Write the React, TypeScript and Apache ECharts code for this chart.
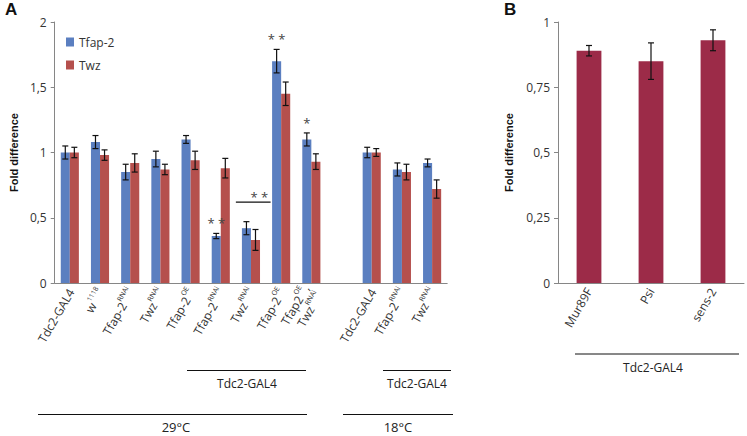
import React, { useEffect, useRef } from "react";
import * as echarts from "echarts";

// Panel A
const catsA = [
  "{n|Tdc2-GAL4}",
  "{n|w}{s|1118}",
  "{n|Tfap-2}{s|RNAi}",
  "{n|Twz}{s|RNAi}",
  "{n|Tfap-2}{s|OE}",
  "{n|Tfap-2}{s|RNAi}",
  "{n|Twz}{s|RNAi}",
  "{n|Tfap-2}{s|OE}",
  "{n|Tfap2}{s|OE}{n|,}\n{n|Twz}{s|RNAi}",
  "",
  "{n|Tdc2-GAL4}",
  "{n|Tfap-2}{s|RNAi}",
  "{n|Twz}{s|RNAi}",
];
const tfapVals = [1.0, 1.08, 0.85, 0.95, 1.1, 0.36, 0.42, 1.7, 1.1, null, 1.0, 0.87, 0.92];
const tfapErr = [0.05, 0.05, 0.06, 0.06, 0.03, 0.02, 0.05, 0.09, 0.05, null, 0.04, 0.05, 0.03];
const twzVals = [1.0, 0.98, 0.92, 0.87, 0.94, 0.88, 0.33, 1.45, 0.93, null, 1.0, 0.85, 0.72];
const twzErr = [0.04, 0.04, 0.07, 0.04, 0.07, 0.075, 0.08, 0.09, 0.06, null, 0.03, 0.06, 0.07];
const tfapSig = ["", "", "", "", "", "* *", "", "* *", "*", "", "", "", ""];
const bracket = { from: 6, to: 7, value: 0.62, label: "* *" };

// Panel B
const catsB = ["Mur89F", "Psi", "sens-2"];
const valsB = [0.89, 0.85, 0.93];
const errB = [0.02, 0.07, 0.04];

const BLUE = "#5B7FC0";
const RED = "#B5504D";
const MAROON = "#9C2B48";
const AXIS = "#868686";
const FONT = "Open Sans";

const fmt = (v: number) => String(v).replace(".", ",");

function errSeries(
  name: string,
  xAxisIndex: number,
  yAxisIndex: number,
  vals: (number | null)[],
  errs: (number | null)[],
  offFrac: number,
  sig: string[] | null
) {
  const data: any[] = [];
  vals.forEach((v, i) => {
    if (v == null) return;
    data.push([i, v, errs[i]]);
  });
  return {
    type: "custom",
    name,
    xAxisIndex,
    yAxisIndex,
    silent: true,
    z: 5,
    encode: { x: 0, y: 1 },
    data,
    renderItem: (params: any, api: any) => {
      const x = api.value(0);
      const v = api.value(1);
      const e = api.value(2);
      const s = sig ? sig[x] : "";
      const catW = api.size([1, 0])[0];
      const top = api.coord([x, v + e]);
      const bot = api.coord([x, v - e]);
      const cx = top[0] + offFrac * catW;
      const cap = 3;
      const st = { stroke: "#111", lineWidth: 1.2 };
      const children: any[] = [
        { type: "line", shape: { x1: cx, y1: top[1], x2: cx, y2: bot[1] }, style: st },
        { type: "line", shape: { x1: cx - cap, y1: top[1], x2: cx + cap, y2: top[1] }, style: st },
        { type: "line", shape: { x1: cx - cap, y1: bot[1], x2: cx + cap, y2: bot[1] }, style: st },
      ];
      if (s) {
        children.push({
          type: "text",
          x: cx,
          y: top[1] - 10,
          style: {
            text: s,
            fill: "#444",
            font: `13px ${FONT}`,
            textAlign: "center",
            textVerticalAlign: "middle",
          },
        });
      }
      return { type: "group", children };
    },
  };
}

const labelRich = {
  n: { fontSize: 12, color: "#333", fontFamily: FONT, verticalAlign: "bottom", lineHeight: 15 },
  s: { fontSize: 7, color: "#333", fontFamily: FONT, verticalAlign: "top", lineHeight: 15 },
};

export default function App() {
  const ref = useRef<HTMLDivElement>(null);
  useEffect(() => {
    if (!ref.current) return;
    const chart = echarts.init(ref.current, undefined, { renderer: "svg" });
    const option: any = {
      animation: false,
      textStyle: { fontFamily: FONT },
      grid: [
        { left: 48.7, top: 22, width: 398.5, height: 261, containLabel: false },
        { left: 558, top: 22, width: 186, height: 261, containLabel: false },
      ],
      legend: {
        data: ["Tfap-2", "Twz"],
        orient: "vertical",
        left: 61,
        top: 31,
        itemWidth: 8,
        itemHeight: 9,
        itemGap: 11,
        icon: "rect",
        textStyle: { fontSize: 12, color: "#333", fontFamily: FONT },
      },
      xAxis: [
        {
          type: "category",
          gridIndex: 0,
          data: catsA,
          axisLine: { lineStyle: { color: AXIS } },
          axisTick: { lineStyle: { color: AXIS }, length: 4 },
          axisLabel: {
            rotate: 60,
            interval: 0,
            margin: 6,
            rich: labelRich,
            formatter: (v: string) => v,
          },
        },
        {
          type: "category",
          gridIndex: 1,
          data: catsB,
          axisLine: { lineStyle: { color: AXIS } },
          axisTick: { lineStyle: { color: AXIS }, length: 4 },
          axisLabel: { rotate: 60, interval: 0, margin: 6, fontSize: 12, color: "#333", fontFamily: FONT },
        },
      ],
      yAxis: [
        {
          type: "value",
          gridIndex: 0,
          min: 0,
          max: 2,
          interval: 0.5,
          name: "Fold difference",
          nameLocation: "middle",
          nameGap: 35,
          nameTextStyle: { fontSize: 11, fontWeight: "bold", color: "#111", fontFamily: "Liberation Sans" },
          axisLine: { show: true, lineStyle: { color: AXIS } },
          axisTick: { show: true, lineStyle: { color: AXIS }, length: 4 },
          splitLine: { show: false },
          axisLabel: { fontSize: 12, color: "#333", margin: 8, formatter: fmt },
        },
        {
          type: "value",
          gridIndex: 1,
          min: 0,
          max: 1,
          interval: 0.25,
          name: "Fold difference",
          nameLocation: "middle",
          nameGap: 44,
          nameTextStyle: { fontSize: 11, fontWeight: "bold", color: "#111", fontFamily: "Liberation Sans" },
          axisLine: { show: true, lineStyle: { color: AXIS } },
          axisTick: { show: true, lineStyle: { color: AXIS }, length: 4 },
          splitLine: { show: false },
          axisLabel: { fontSize: 12, color: "#333", margin: 8, formatter: fmt },
        },
      ],
      series: [
        {
          type: "bar",
          name: "Tfap-2",
          xAxisIndex: 0,
          yAxisIndex: 0,
          data: tfapVals.map((v) => (v == null ? "-" : v)),
          itemStyle: { color: BLUE },
          barGap: "0%",
          barCategoryGap: "40%",
        },
        {
          type: "bar",
          name: "Twz",
          xAxisIndex: 0,
          yAxisIndex: 0,
          data: twzVals.map((v) => (v == null ? "-" : v)),
          itemStyle: { color: RED },
          barGap: "0%",
          barCategoryGap: "40%",
        },
        errSeries("errTfap", 0, 0, tfapVals, tfapErr, -0.15, tfapSig),
        errSeries("errTwz", 0, 0, twzVals, twzErr, 0.15, null),
        {
          type: "custom",
          name: "bracket",
          xAxisIndex: 0,
          yAxisIndex: 0,
          silent: true,
          encode: { x: 0, y: 1 },
          data: [[bracket.from, bracket.value, bracket.to]],
          renderItem: (params: any, api: any) => {
            const catW = api.size([1, 0])[0];
            const a = api.coord([api.value(0), api.value(1)]);
            const b = api.coord([api.value(2), api.value(1)]);
            const x1 = a[0] - catW * 0.5;
            const x2 = b[0] - catW * 0.35;
            return {
              type: "group",
              children: [
                { type: "line", shape: { x1, y1: a[1], x2, y2: a[1] }, style: { stroke: "#111", lineWidth: 1.2 } },
                {
                  type: "text",
                  x: (x1 + x2) / 2 + 6,
                  y: a[1] - 5,
                  style: {
                    text: bracket.label,
                    fill: "#444",
                    font: `13px ${FONT}`,
                    textAlign: "center",
                    textVerticalAlign: "middle",
                  },
                },
              ],
            };
          },
        },
        {
          type: "bar",
          name: "B",
          xAxisIndex: 1,
          yAxisIndex: 1,
          data: valsB,
          itemStyle: { color: MAROON },
          barWidth: "40%",
        },
        errSeries("errB", 1, 1, valsB, errB, 0, null),
      ],
      graphic: [
        { type: "text", left: 5, top: 1, style: { text: "A", font: `bold 17px Liberation Sans`, fill: "#111" } },
        { type: "text", left: 504, top: 1, style: { text: "B", font: `bold 17px Liberation Sans`, fill: "#111" } },
        // Panel A group annotations
        { type: "line", shape: { x1: 187, y1: 370.5, x2: 306, y2: 370.5 }, style: { stroke: "#111", lineWidth: 1 } },
        { type: "text", x: 247, y: 383, style: { text: "Tdc2-GAL4", font: `12px ${FONT}`, fill: "#222", textAlign: "center", textVerticalAlign: "middle" } },
        { type: "line", shape: { x1: 383, y1: 370.5, x2: 451, y2: 370.5 }, style: { stroke: "#111", lineWidth: 1 } },
        { type: "text", x: 417, y: 383, style: { text: "Tdc2-GAL4", font: `12px ${FONT}`, fill: "#222", textAlign: "center", textVerticalAlign: "middle" } },
        { type: "line", shape: { x1: 38, y1: 414.5, x2: 307, y2: 414.5 }, style: { stroke: "#111", lineWidth: 1 } },
        { type: "text", x: 176, y: 427, style: { text: "29°C", font: `13px ${FONT}`, fill: "#222", textAlign: "center", textVerticalAlign: "middle" } },
        { type: "line", shape: { x1: 343, y1: 414.5, x2: 453, y2: 414.5 }, style: { stroke: "#111", lineWidth: 1 } },
        { type: "text", x: 398, y: 427, style: { text: "18°C", font: `13px ${FONT}`, fill: "#222", textAlign: "center", textVerticalAlign: "middle" } },
        // Panel B group annotation
        { type: "line", shape: { x1: 575, y1: 354, x2: 739, y2: 354 }, style: { stroke: "#111", lineWidth: 1 } },
        { type: "text", x: 653, y: 367, style: { text: "Tdc2-GAL4", font: `12px ${FONT}`, fill: "#222", textAlign: "center", textVerticalAlign: "middle" } },
      ],
    };
    chart.setOption(option);
    return () => chart.dispose();
  }, []);
  return (
    <div
      ref={ref}
      style={{ position: "fixed", left: 0, top: 0, width: 747, height: 436, background: "#fff" }}
    />
  );
}
